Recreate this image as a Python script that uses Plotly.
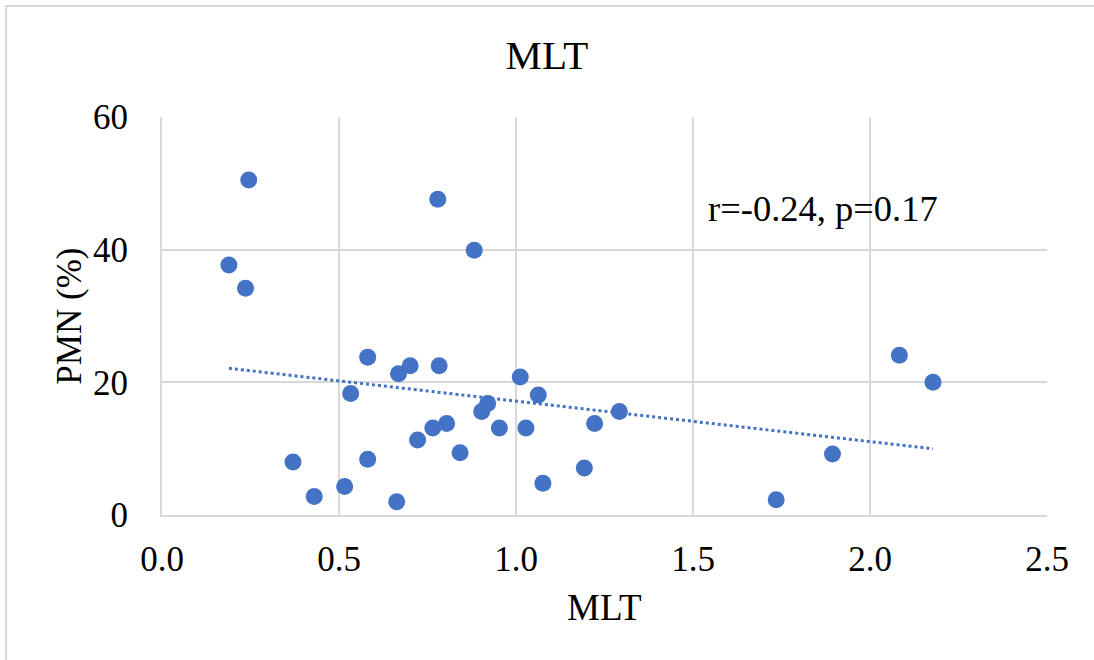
import numpy as np
import plotly.graph_objects as go

# Data
mlt = [0.189, 0.245, 0.236, 0.370, 0.430, 0.516, 0.533, 0.581, 0.581, 0.663,
       0.668, 0.701, 0.722, 0.765, 0.779, 0.783, 0.804, 0.842, 0.882, 0.903,
       0.920, 0.953, 1.012, 1.028, 1.063, 1.076, 1.193, 1.222, 1.292, 1.735,
       1.894, 2.083, 2.178]
pmn = [37.7, 50.5, 34.2, 8.0, 2.8, 4.3, 18.3, 23.8, 8.4, 2.0,
       21.3, 22.5, 11.3, 13.1, 47.6, 22.5, 13.8, 9.4, 39.9, 15.6,
       16.8, 13.1, 20.8, 13.1, 18.1, 4.8, 7.1, 13.8, 15.6, 2.3,
       9.2, 24.1, 20.0]

x_ticks = [0.0, 0.5, 1.0, 1.5, 2.0, 2.5]
x_tick_labels = ["0.0", "0.5", "1.0", "1.5", "2.0", "2.5"]
y_ticks = [0, 20, 40, 60]
y_tick_labels = ["0", "20", "40", "60"]

title_text = "MLT"
x_title = "MLT"
y_title = "PMN (%)"
stat_text = "r=-0.24, p=0.17"

BLUE = "#4472C4"
GRID = "#D9D9D9"
FONT = "Liberation Serif, Times New Roman, serif"

# Linear trendline (least squares) over the data range
coef = np.polyfit(mlt, pmn, 1)
tx = np.array([min(mlt), max(mlt)])
ty = np.polyval(coef, tx)

fig = go.Figure()
fig.add_trace(go.Scatter(
    x=tx, y=ty, mode="lines",
    line=dict(color=BLUE, width=3, dash="dot"),
    hoverinfo="skip", showlegend=False,
))
fig.add_trace(go.Scatter(
    x=mlt, y=pmn, mode="markers",
    marker=dict(color=BLUE, size=17, line=dict(width=0)),
    showlegend=False,
))

fig.update_layout(
    width=1094, height=660,
    margin=dict(l=162, r=47, t=117, b=145, autoexpand=False),
    paper_bgcolor="white", plot_bgcolor="white",
    font=dict(family=FONT, size=34, color="black"),
    title=dict(text=title_text, x=0.5, xref="container", xanchor="center",
               y=(660 - 55) / 660, yref="container", yanchor="middle",
               font=dict(family=FONT, size=41, color="black")),
    xaxis=dict(range=[0, 2.5], tickvals=x_ticks, ticktext=x_tick_labels,
               showgrid=True, gridcolor=GRID, gridwidth=1.5,
               zeroline=False, showline=True, linecolor=GRID, linewidth=2,
               mirror=False, ticks="outside", ticklen=12,
               tickcolor="rgba(0,0,0,0)", tickfont=dict(size=35)),
    yaxis=dict(range=[0, 60], tickvals=y_ticks, ticktext=y_tick_labels,
               showgrid=True, gridcolor=GRID, gridwidth=1.5,
               zeroline=False, showline=True, linecolor=GRID, linewidth=2,
               ticks="outside", ticklen=25,
               tickcolor="rgba(0,0,0,0)", tickfont=dict(size=35)),
    annotations=[
        dict(text=stat_text, x=1.866, y=46.2, xref="x", yref="y",
             showarrow=False, xanchor="center", yanchor="middle",
             font=dict(family=FONT, size=36.5, color="black")),
        dict(text=x_title, x=0.5, y=(515 - 608) / 398.3, xref="paper", yref="paper",
             showarrow=False, xanchor="center", yanchor="middle",
             font=dict(family=FONT, size=37, color="black")),
        dict(text=y_title, x=(69 - 162.3) / 884.4, y=0.5, xref="paper", yref="paper",
             showarrow=False, xanchor="center", yanchor="middle", textangle=-90,
             font=dict(family=FONT, size=35, color="black")),
    ],
    shapes=[
        dict(type="rect", xref="paper", yref="paper",
             x0=(6.5 - 162.3) / 884.4, x1=1.2,
             y0=-0.6, y1=(515 - 5.5) / 398.3,
             line=dict(color=GRID, width=2), fillcolor="rgba(0,0,0,0)", layer="below"),
    ],
)

fig.write_html("out.html")
